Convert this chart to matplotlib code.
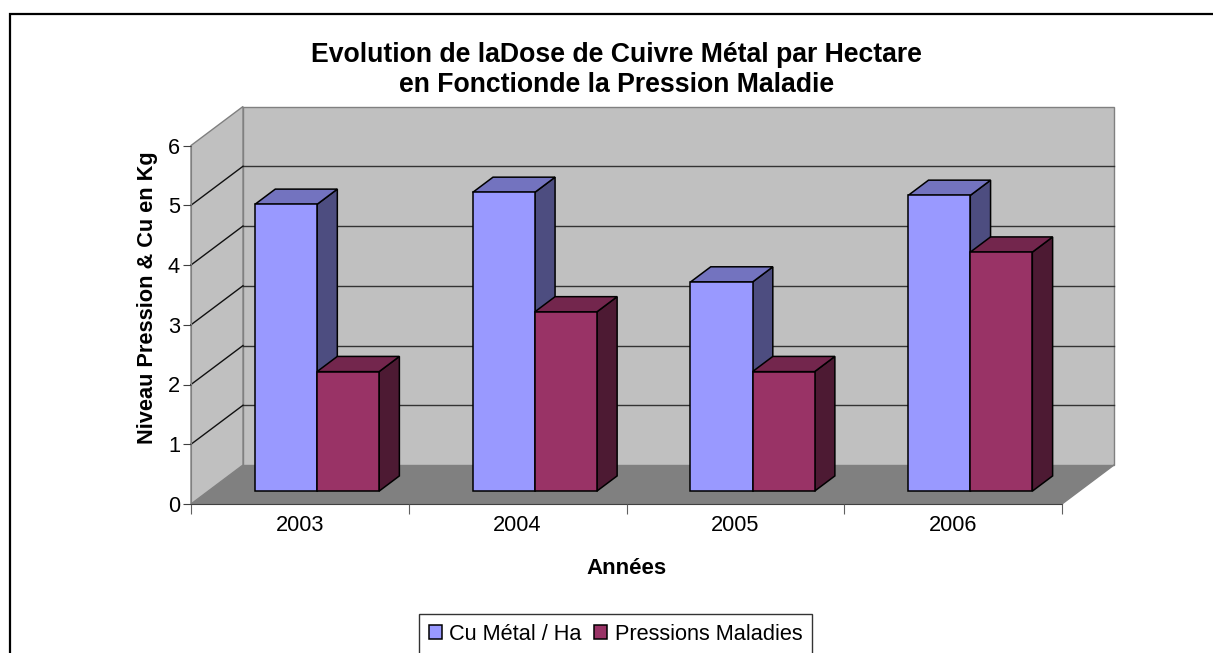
import matplotlib
matplotlib.use("Agg")
import matplotlib.pyplot as plt
from matplotlib.patches import Polygon, Rectangle

plt.rcParams["font.family"] = ["Liberation Sans", "DejaVu Sans"]

# ---------------- Data ----------------
years = ["2003", "2004", "2005", "2006"]
cu_metal = [4.8, 5.0, 3.5, 4.95]
pressions = [2, 3, 2, 4]
series_names = ["Cu Métal / Ha", "Pressions Maladies"]

# ---------------- Style ----------------
# colours: front, top, side
blue = ("#9999FF", "#7373BF", "#4D4D80")
red = ("#993366", "#73264D", "#4D1A33")
wall_col = "#C0C0C0"
floor_col = "#808080"
FS = 15.7

W, H = 1213, 653
fig = plt.figure(figsize=(W / 100, H / 100), dpi=100)
# axes = front plane of the 3D box
ax = fig.add_axes([191 / W, 1 - 504 / H, 871 / W, (504 - 145.5) / H])
ax.set_xlim(0, len(years))
ax.set_ylim(0, 6)
ax.patch.set_visible(False)

# oblique depth of the box, in data units
DX = 52 / (871 / len(years))
DY = 39 / ((504 - 145.5) / 6)
ymax = 6
n = len(years)

# walls & floor
ax.add_patch(Polygon([(DX, DY), (n + DX, DY), (n + DX, ymax + DY), (DX, ymax + DY)],
                     closed=True, facecolor=wall_col, edgecolor="#808080", lw=1, zorder=0, clip_on=False))
ax.add_patch(Polygon([(0, 0), (0, ymax), (DX, ymax + DY), (DX, DY)],
                     closed=True, facecolor=wall_col, edgecolor="#808080", lw=1, zorder=0, clip_on=False))
ax.add_patch(Polygon([(0, 0), (DX, DY), (n + DX, DY), (n, 0)],
                     closed=True, facecolor=floor_col, edgecolor="none", lw=0, zorder=0.5, clip_on=False))
ax.plot([n, n + DX], [0, DY], color="#808080", lw=1, zorder=0.6, clip_on=False)

# grid lines (back wall + left wall)
for v in range(1, ymax):
    ax.plot([DX, n + DX], [v + DY, v + DY], color="#333333", lw=1, zorder=0.4, clip_on=False)
    ax.plot([0, DX], [v, v + DY], color="#111111", lw=1, zorder=0.4, clip_on=False)

# ---------------- Bars ----------------
bw = 0.285       # bar width (category units)
f0, bd = 0.33, 0.39   # depth start & bar depth (fraction of box depth)
ox, oy = f0 * DX, f0 * DY
ddx, ddy = bd * DX, bd * DY

handles = []
for i in range(n):
    for k, (vals, cols) in enumerate([(cu_metal, blue), (pressions, red)]):
        x0 = i + 0.5 - bw + k * bw + ox
        h = vals[i]
        b = ax.bar(x0, h, width=bw, bottom=oy, align="edge", color=cols[0],
                   edgecolor="black", lw=1.1, zorder=3 + i * 2 + k,
                   label=series_names[k] if i == 0 else None, clip_on=False)
        if i == 0:
            handles.append(b)
        top = oy + h
        # right side
        ax.add_patch(Polygon([(x0 + bw, oy), (x0 + bw + ddx, oy + ddy),
                              (x0 + bw + ddx, top + ddy), (x0 + bw, top)],
                             closed=True, facecolor=cols[2], edgecolor="black", lw=1.1,
                             zorder=2.9 + i * 2 + k, clip_on=False))
        # top
        ax.add_patch(Polygon([(x0, top), (x0 + ddx, top + ddy),
                              (x0 + bw + ddx, top + ddy), (x0 + bw, top)],
                             closed=True, facecolor=cols[1], edgecolor="black", lw=1.1,
                             zorder=2.9 + i * 2 + k, clip_on=False))

# ---------------- Axes ----------------
for s in ["top", "right"]:
    ax.spines[s].set_visible(False)
ax.spines["left"].set_color("#808080")
ax.spines["bottom"].set_color("#404040")
ax.spines["left"].set_zorder(1)
ax.spines["bottom"].set_zorder(1)

ax.set_yticks(range(ymax + 1))
ax.tick_params(axis="y", length=6, pad=2, labelsize=FS, color="#404040")
ax.set_xticks(range(n + 1))
ax.set_xticklabels([])
ax.set_xticks([i + 0.5 for i in range(n)], minor=True)
ax.set_xticklabels(years, minor=True)
ax.tick_params(axis="x", which="major", length=7, color="#606060")
ax.tick_params(axis="x", which="minor", length=0, pad=8, labelsize=FS)

ax.set_ylabel("Niveau Pression & Cu en Kg", fontsize=FS, fontweight="bold")
ax.yaxis.set_label_coords(-0.05, 0.576)
ax.yaxis.label.set_verticalalignment("center")
ax.set_xlabel("Années", fontsize=16, fontweight="bold")
ax.xaxis.set_label_coords((626.5 - 191) / 871, -(568 - 504) / (504 - 145.5))
ax.xaxis.label.set_verticalalignment("center")

fig.text(616.5 / W, 1 - 70 / H,
         "Evolution de laDose de Cuivre Métal par Hectare\nen Fonctionde la Pression Maladie",
         ha="center", va="center", fontsize=19.2, fontweight="bold", linespacing=1.22)

leg = fig.legend(handles=handles, labels=series_names, ncol=2, loc="upper center",
                 bbox_to_anchor=(615.5 / W, 1 - 614 / H), bbox_transform=fig.transFigure,
                 fontsize=FS, frameon=True, fancybox=False, edgecolor="black",
                 handlelength=0.6, handleheight=0.6, handletextpad=0.35,
                 columnspacing=0.55, borderpad=0.45, borderaxespad=0)
leg.get_frame().set_linewidth(1)

# outer chart border (only top/left visible in the frame)
fig.add_artist(Rectangle((9.5 / W, -0.1), 1.2, 1.1 - 14.5 / H, transform=fig.transFigure,
                         fill=False, edgecolor="black", lw=1.6, clip_on=False))

fig.savefig("out.png", dpi=100)
